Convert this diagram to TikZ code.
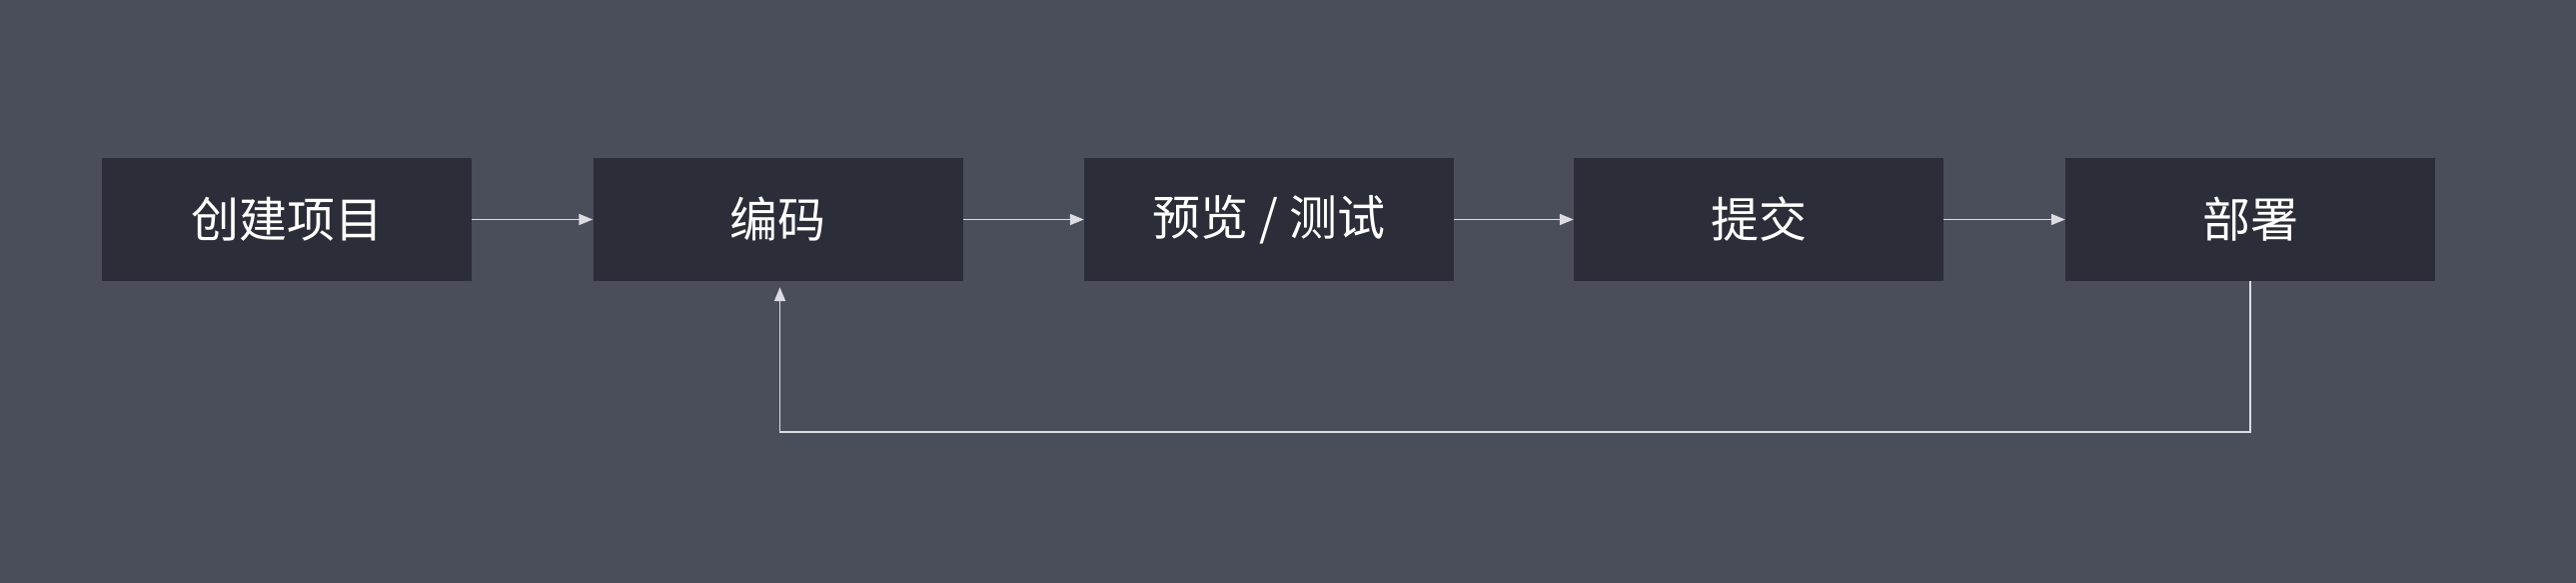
\documentclass[tikz,border=0pt]{standalone}
\usepackage{fontspec}
\usepackage{tikz}
\usetikzlibrary{arrows.meta}
\newfontfamily\cjk{Noto Sans CJK SC}
\definecolor{bgcol}{HTML}{4A4D5A}
\definecolor{boxcol}{HTML}{2B2D38}
\definecolor{linecol}{HTML}{DCDCE2}
\tikzset{
  stage/.style={fill=boxcol, minimum width=370pt, minimum height=123pt, inner sep=0pt,
    text=white, font=\cjk\fontsize{48}{54}\selectfont},
  flow/.style={draw=linecol, line width=1.8pt, -{Triangle[length=14pt,width=11pt]}}
}
\begin{document}
\begin{tikzpicture}[x=1pt,y=-1pt]
\useasboundingbox (0,0) rectangle (2578,582);
\fill[bgcol] (-2,-2) rectangle (2580,584);
\node[stage] (create) at (287,219.5) {创建项目};
\node[stage] (code) at (778.5,219.5) {编码};
\node[stage] (test) at (1270,219.5) {预览 / 测试};
\node[stage] (commit) at (1760,219.5) {提交};
\node[stage] (deploy) at (2252,219.5) {部署};
\draw[flow] (create) -- (code);
\draw[flow] (code) -- (test);
\draw[flow] (test) -- (commit);
\draw[flow] (commit) -- (deploy);
\draw[flow, shorten >=6pt] (deploy.south) -- ++(0,151) -| ([xshift=2pt]code.south);
\end{tikzpicture}
\end{document}
